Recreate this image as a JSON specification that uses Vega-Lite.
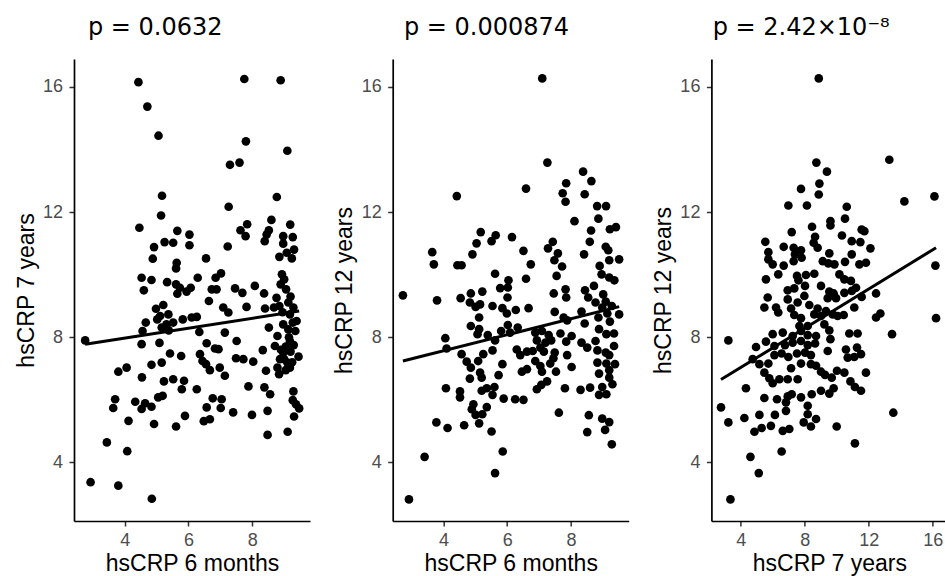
{
  "$schema": "https://vega.github.io/schema/vega-lite/v6.json",
  "padding": {"left": 15, "top": 15, "right": 0, "bottom": 0},
  "bounds": "flush",
  "spacing": 82.7,
  "background": "white",
  "config": {
    "view": {"stroke": null},
    "font": "Liberation Sans",
    "axis": {
      "grid": false,
      "domainColor": "black",
      "domainWidth": 1.7,
      "tickColor": "#333333",
      "tickSize": 5,
      "tickWidth": 1.5,
      "labelColor": "#4D4D4D",
      "labelFontSize": 18,
      "labelFont": "Liberation Sans",
      "titleFont": "Liberation Sans",
      "titleFontSize": 23,
      "titleFontWeight": "normal",
      "titleColor": "black"
    },
    "axisX": {"labelPadding": 5, "titleX": 118, "titleY": 49.7, "titleBaseline": "alphabetic", "titleAlign": "center"},
    "axisY": {"labelPadding": 6.5, "titleX": -41, "titleY": 231, "titleBaseline": "alphabetic", "titleAlign": "center"},
    "title": {"anchor": "start", "frame": "group", "offset": 19.5, "baseline": "alphabetic", "fontSize": 24, "fontWeight": "normal", "font": "DejaVu Sans", "color": "black"}
  },
  "datasets": {
    "p1": [
      {"x":4.43,"y":16.15},{"x":4.71,"y":15.37},{"x":5.06,"y":14.44},{"x":7.75,"y":16.25},{"x":8.89,"y":16.21},{"x":7.80,"y":14.26},{"x":9.10,"y":13.96},{"x":7.30,"y":13.51},{"x":7.60,"y":13.58},{"x":5.17,"y":12.52},{"x":8.77,"y":12.48},{"x":7.26,"y":12.17},{"x":5.14,"y":11.89},{"x":4.46,"y":11.50},{"x":7.84,"y":11.61},{"x":7.63,"y":11.42},{"x":7.79,"y":11.23},{"x":8.60,"y":11.75},{"x":8.52,"y":11.42},{"x":8.45,"y":11.28},{"x":8.39,"y":11.07},{"x":9.19,"y":11.60},{"x":8.97,"y":11.23},{"x":9.27,"y":11.20},{"x":8.97,"y":10.99},{"x":9.31,"y":10.80},{"x":8.85,"y":10.57},{"x":9.24,"y":10.52},{"x":9.08,"y":10.70},{"x":5.65,"y":11.40},{"x":6.03,"y":11.28},{"x":6.03,"y":10.94},{"x":5.25,"y":11.04},{"x":5.52,"y":11.02},{"x":4.92,"y":10.88},{"x":4.88,"y":10.51},{"x":5.63,"y":10.38},{"x":6.55,"y":10.52},{"x":7.23,"y":10.90},
      {"x":5.61,"y":10.20},{"x":4.53,"y":9.90},{"x":4.84,"y":9.83},{"x":4.60,"y":9.50},{"x":5.33,"y":9.76},{"x":5.61,"y":9.69},{"x":5.73,"y":9.58},{"x":5.65,"y":9.39},{"x":5.94,"y":9.46},{"x":6.07,"y":9.58},{"x":6.29,"y":9.90},{"x":6.85,"y":9.90},{"x":7.02,"y":10.04},{"x":6.73,"y":9.53},{"x":6.88,"y":9.53},{"x":6.64,"y":9.16},{"x":7.46,"y":9.56},{"x":7.69,"y":9.42},{"x":8.08,"y":9.64},{"x":8.37,"y":9.40},{"x":8.93,"y":10.01},{"x":8.89,"y":9.69},{"x":9.06,"y":9.53},{"x":8.76,"y":9.26},{"x":9.13,"y":9.11},{"x":7.09,"y":8.95},{"x":7.25,"y":8.79},{"x":7.82,"y":8.97},{"x":8.40,"y":8.92},{"x":8.68,"y":8.95},{"x":9.29,"y":8.95},{"x":9.39,"y":8.52},{"x":9.18,"y":8.73},{"x":8.97,"y":8.41},{"x":9.13,"y":8.25},{"x":9.27,"y":8.47},{"x":4.98,"y":8.91},{"x":5.21,"y":9.03},{"x":5.11,"y":8.68},{"x":5.37,"y":8.73},{"x":5.02,"y":8.57},{"x":5.31,"y":8.41},{"x":5.16,"y":8.31},{"x":5.38,"y":8.22},{"x":4.66,"y":8.47},{"x":4.56,"y":8.20},{"x":5.52,"y":8.47},{"x":5.82,"y":8.57},{"x":6.10,"y":8.63},{"x":6.26,"y":8.65},{"x":6.34,"y":8.17},{"x":7.14,"y":8.15},{"x":8.52,"y":8.31},{"x":2.76,"y":7.90},{"x":4.53,"y":7.78},{"x":5.09,"y":7.82},{"x":6.57,"y":7.81},{"x":6.83,"y":7.64},{"x":6.94,"y":7.62},{"x":7.51,"y":7.88},{"x":8.33,"y":7.59},{"x":8.79,"y":8.04},{"x":9.18,"y":7.88},{"x":8.71,"y":7.72},{"x":8.97,"y":7.51},{"x":9.20,"y":7.54},{"x":8.87,"y":7.30},{"x":9.45,"y":7.38},{"x":9.10,"y":7.19},{"x":8.79,"y":7.03},{"x":9.18,"y":7.03},{"x":8.84,"y":6.82},{"x":5.42,"y":7.48},{"x":5.77,"y":7.40},{"x":6.36,"y":7.46},{"x":6.44,"y":7.24},{"x":6.55,"y":7.14},{"x":6.67,"y":6.95},{"x":6.98,"y":7.03},{"x":7.14,"y":6.77},{"x":7.49,"y":7.33},{"x":7.72,"y":7.30},{"x":8.03,"y":7.22},{"x":8.43,"y":6.93},{"x":3.80,"y":6.90},{"x":4.06,"y":7.03},{"x":4.84,"y":7.12},{"x":5.16,"y":7.19},{"x":4.54,"y":6.72},{"x":5.23,"y":6.59},{"x":5.52,"y":6.66},{"x":5.86,"y":6.61},{"x":5.79,"y":6.34},{"x":6.26,"y":6.34},{"x":7.88,"y":6.43},{"x":8.38,"y":6.40},{"x":8.56,"y":6.18},{"x":9.29,"y":6.27},{"x":3.70,"y":6.02},{"x":3.64,"y":5.74},{"x":4.33,"y":5.94},{"x":4.53,"y":5.71},{"x":4.64,"y":5.89},{"x":4.84,"y":5.78},{"x":5.05,"y":6.08},{"x":5.19,"y":6.13},{"x":6.76,"y":6.05},{"x":7.04,"y":6.02},{"x":6.57,"y":5.76},{"x":6.48,"y":5.32},{"x":6.67,"y":5.38},{"x":7.01,"y":5.74},{"x":7.40,"y":5.60},{"x":7.99,"y":5.52},{"x":8.48,"y":5.65},{"x":9.27,"y":5.99},{"x":9.37,"y":5.86},{"x":9.47,"y":5.73},{"x":9.31,"y":5.47},{"x":5.89,"y":5.49},{"x":4.12,"y":5.33},{"x":4.92,"y":5.23},{"x":5.61,"y":5.15},{"x":8.48,"y":4.88},{"x":9.11,"y":4.98},{"x":3.44,"y":4.64},{"x":4.08,"y":4.36},{"x":2.93,"y":3.37},{"x":3.80,"y":3.26},{"x":4.85,"y":2.84},
      {"x":9.00,"y":9.85},{"x":9.20,"y":9.30},{"x":8.95,"y":8.80},{"x":9.15,"y":8.00},{"x":9.05,"y":7.70},{"x":9.30,"y":7.75},{"x":8.90,"y":7.60},{"x":9.00,"y":7.30},{"x":9.25,"y":7.20},{"x":9.05,"y":6.95},{"x":9.35,"y":8.20},{"x":8.85,"y":9.00}
    ],
    "l1": [{"x":2.76,"y":7.78},{"x":9.47,"y":8.84}],
    "p2": [
      {"x":7.10,"y":16.27},{"x":7.26,"y":13.58},{"x":4.42,"y":12.51},{"x":6.59,"y":12.75},{"x":8.38,"y":13.29},{"x":8.64,"y":12.99},{"x":7.85,"y":12.92},{"x":7.74,"y":12.60},{"x":7.83,"y":12.33},{"x":8.43,"y":12.57},{"x":8.82,"y":12.19},{"x":9.10,"y":12.19},{"x":8.86,"y":11.79},{"x":8.11,"y":11.71},{"x":8.63,"y":11.41},{"x":9.22,"y":11.45},{"x":9.41,"y":11.52},{"x":8.59,"y":11.05},{"x":9.09,"y":10.89},{"x":9.17,"y":10.78},{"x":9.51,"y":10.49},{"x":9.20,"y":10.46},{"x":8.90,"y":10.28},{"x":8.41,"y":10.65},{"x":7.43,"y":11.05},{"x":7.28,"y":10.84},{"x":7.59,"y":10.68},{"x":7.48,"y":10.46},{"x":7.72,"y":10.26},{"x":6.15,"y":11.20},{"x":6.51,"y":10.76},{"x":6.74,"y":10.33},{"x":5.17,"y":11.36},{"x":5.64,"y":11.26},{"x":5.51,"y":11.07},{"x":5.04,"y":11.00},{"x":4.91,"y":10.65},{"x":3.65,"y":10.72},{"x":3.70,"y":10.33},{"x":4.44,"y":10.30},{"x":4.57,"y":10.30},
      {"x":5.62,"y":10.03},{"x":6.59,"y":9.87},{"x":7.55,"y":9.96},{"x":8.96,"y":10.01},{"x":9.20,"y":9.91},{"x":9.36,"y":9.82},{"x":2.73,"y":9.34},{"x":3.80,"y":9.18},{"x":4.54,"y":9.25},{"x":4.86,"y":9.40},{"x":5.22,"y":9.46},{"x":4.83,"y":9.11},{"x":5.01,"y":8.97},{"x":5.15,"y":9.05},{"x":5.12,"y":8.63},{"x":6.04,"y":9.82},{"x":5.78,"y":9.57},{"x":6.02,"y":9.59},{"x":6.01,"y":9.27},{"x":5.54,"y":9.00},{"x":5.85,"y":8.93},{"x":6.27,"y":8.87},{"x":6.67,"y":8.93},{"x":5.99,"y":8.76},{"x":7.46,"y":9.40},{"x":7.83,"y":9.53},{"x":7.85,"y":9.27},{"x":8.44,"y":9.50},{"x":8.72,"y":9.64},{"x":8.54,"y":9.27},{"x":8.77,"y":9.11},{"x":9.01,"y":9.37},{"x":9.09,"y":9.14},{"x":9.28,"y":9.00},{"x":9.51,"y":8.73},{"x":8.98,"y":8.95},{"x":9.14,"y":8.76},{"x":8.86,"y":8.63},{"x":9.22,"y":8.50},{"x":8.33,"y":8.82},{"x":8.43,"y":8.44},{"x":7.49,"y":8.81},{"x":7.77,"y":8.63},{"x":7.88,"y":8.54},{"x":4.86,"y":8.36},{"x":5.07,"y":8.10},{"x":5.39,"y":8.07},{"x":5.62,"y":7.90},{"x":5.12,"y":8.26},{"x":5.81,"y":8.20},{"x":6.02,"y":8.39},{"x":6.33,"y":8.31},{"x":6.09,"y":8.15},{"x":4.06,"y":7.97},{"x":4.10,"y":7.64},{"x":6.88,"y":8.15},{"x":7.09,"y":8.20},{"x":7.30,"y":8.07},{"x":6.93,"y":7.90},{"x":7.20,"y":7.83},{"x":7.38,"y":7.90},{"x":7.04,"y":7.67},{"x":7.15,"y":7.54},{"x":7.67,"y":8.12},{"x":8.02,"y":8.04},{"x":7.85,"y":7.86},{"x":8.33,"y":7.83},{"x":8.51,"y":7.67},{"x":8.77,"y":7.88},{"x":8.88,"y":8.26},{"x":9.11,"y":8.10},{"x":9.35,"y":8.12},{"x":8.83,"y":7.58},{"x":9.09,"y":7.51},{"x":9.35,"y":7.72},{"x":9.20,"y":7.43},{"x":8.83,"y":7.19},{"x":9.11,"y":7.16},{"x":9.38,"y":7.14},{"x":9.20,"y":6.95},{"x":8.88,"y":6.84},{"x":9.20,"y":6.71},{"x":9.30,"y":6.50},{"x":8.98,"y":6.41},{"x":8.88,"y":6.16},{"x":9.11,"y":6.18},{"x":8.60,"y":6.39},{"x":8.30,"y":6.32},{"x":7.81,"y":6.37},{"x":7.62,"y":5.59},{"x":8.56,"y":5.51},{"x":8.98,"y":5.40},{"x":9.20,"y":5.29},{"x":9.07,"y":5.04},{"x":8.51,"y":4.97},{"x":9.28,"y":4.58},{"x":4.57,"y":7.46},{"x":4.73,"y":7.22},{"x":4.86,"y":7.03},{"x":5.09,"y":7.24},{"x":5.25,"y":7.46},{"x":5.54,"y":7.58},{"x":5.15,"y":6.87},{"x":5.20,"y":6.71},{"x":4.83,"y":6.68},{"x":5.85,"y":7.14},{"x":5.73,"y":6.79},{"x":6.30,"y":7.61},{"x":6.41,"y":7.43},{"x":6.62,"y":7.54},{"x":6.80,"y":7.56},{"x":6.88,"y":7.24},{"x":7.04,"y":7.08},{"x":7.09,"y":6.90},{"x":7.35,"y":7.16},{"x":7.53,"y":6.90},{"x":7.49,"y":7.51},{"x":7.45,"y":7.33},{"x":7.88,"y":7.43},{"x":8.02,"y":7.05},{"x":6.46,"y":6.90},{"x":6.62,"y":6.98},{"x":6.93,"y":6.34},{"x":7.07,"y":6.48},{"x":7.25,"y":6.59},{"x":5.20,"y":6.29},{"x":5.36,"y":6.37},{"x":5.60,"y":6.41},{"x":5.54,"y":6.16},{"x":4.08,"y":6.37},{"x":4.52,"y":6.27},{"x":4.52,"y":6.08},{"x":5.89,"y":6.04},{"x":6.25,"y":6.02},{"x":6.51,"y":6.00},{"x":4.94,"y":5.86},{"x":4.89,"y":5.70},{"x":5.01,"y":5.52},{"x":5.22,"y":5.54},{"x":5.36,"y":5.77},{"x":5.12,"y":5.25},{"x":3.78,"y":5.28},{"x":4.13,"y":5.10},{"x":4.65,"y":5.19},{"x":5.51,"y":4.99},{"x":5.86,"y":4.35},{"x":3.41,"y":4.18},{"x":5.62,"y":3.66},{"x":2.92,"y":2.82}
    ],
    "l2": [{"x":2.73,"y":7.24},{"x":9.51,"y":8.98}],
    "p3": [
      {"x":8.88,"y":16.27},{"x":8.73,"y":13.58},{"x":9.39,"y":13.29},{"x":13.29,"y":13.67},{"x":14.23,"y":12.34},{"x":16.11,"y":12.50},{"x":7.77,"y":12.74},{"x":8.92,"y":12.91},{"x":8.88,"y":12.56},{"x":6.98,"y":12.21},{"x":8.14,"y":12.21},{"x":10.63,"y":12.17},{"x":10.52,"y":11.79},{"x":9.61,"y":11.71},{"x":9.61,"y":11.57},{"x":8.46,"y":11.53},{"x":7.19,"y":11.36},{"x":5.54,"y":11.05},{"x":8.65,"y":11.21},{"x":8.56,"y":11.02},{"x":8.81,"y":10.86},{"x":10.33,"y":11.25},{"x":11.56,"y":11.44},{"x":11.73,"y":11.39},{"x":10.94,"y":11.07},{"x":11.48,"y":11.04},{"x":12.11,"y":10.84},{"x":5.73,"y":10.72},{"x":5.73,"y":10.49},{"x":6.00,"y":10.33},{"x":6.69,"y":10.89},{"x":7.31,"y":10.86},{"x":7.77,"y":10.78},{"x":7.39,"y":10.65},{"x":7.31,"y":10.43},{"x":7.81,"y":10.54},{"x":6.69,"y":10.29},{"x":9.54,"y":10.68},{"x":9.13,"y":10.43},{"x":9.48,"y":10.36},{"x":9.86,"y":10.33},{"x":10.52,"y":10.41},{"x":10.94,"y":10.65},{"x":11.42,"y":10.33},{"x":11.83,"y":10.38},{"x":16.17,"y":10.29},
      {"x":5.58,"y":9.85},{"x":6.35,"y":10.01},{"x":7.52,"y":9.96},{"x":8.08,"y":9.99},{"x":8.60,"y":10.03},{"x":7.61,"y":9.82},{"x":10.17,"y":10.01},{"x":10.48,"y":9.85},{"x":10.89,"y":9.80},{"x":6.94,"y":9.50},{"x":7.35,"y":9.56},{"x":8.02,"y":9.64},{"x":9.02,"y":9.64},{"x":9.54,"y":9.46},{"x":9.81,"y":9.40},{"x":9.44,"y":9.25},{"x":9.96,"y":9.25},{"x":10.48,"y":9.42},{"x":10.94,"y":9.48},{"x":11.21,"y":9.58},{"x":11.56,"y":9.29},{"x":12.46,"y":9.40},{"x":5.69,"y":9.27},{"x":5.48,"y":8.95},{"x":6.21,"y":8.95},{"x":6.35,"y":8.79},{"x":6.94,"y":9.21},{"x":7.15,"y":8.92},{"x":7.56,"y":9.11},{"x":7.98,"y":9.32},{"x":8.29,"y":9.03},{"x":8.81,"y":8.92},{"x":7.35,"y":8.71},{"x":7.77,"y":8.61},{"x":8.60,"y":8.73},{"x":9.02,"y":8.68},{"x":9.33,"y":8.84},{"x":9.75,"y":8.73},{"x":10.06,"y":8.68},{"x":10.44,"y":8.71},{"x":11.10,"y":8.95},{"x":12.46,"y":8.63},{"x":12.73,"y":8.76},{"x":16.21,"y":8.61},{"x":7.67,"y":8.36},{"x":8.19,"y":8.36},{"x":9.23,"y":8.41},{"x":9.54,"y":8.22},{"x":9.61,"y":7.94},{"x":6.00,"y":8.10},{"x":6.63,"y":8.15},{"x":7.25,"y":8.04},{"x":7.77,"y":8.20},{"x":8.19,"y":8.07},{"x":8.71,"y":8.04},{"x":10.79,"y":8.12},{"x":11.31,"y":8.12},{"x":13.46,"y":8.10},{"x":3.23,"y":7.90},{"x":4.96,"y":7.69},{"x":5.58,"y":7.86},{"x":6.11,"y":7.72},{"x":6.77,"y":7.75},{"x":7.25,"y":7.83},{"x":7.77,"y":7.88},{"x":8.19,"y":7.75},{"x":8.65,"y":7.80},{"x":9.44,"y":7.56},{"x":10.58,"y":7.61},{"x":10.69,"y":7.35},{"x":11.27,"y":7.67},{"x":11.52,"y":7.46},{"x":11.10,"y":7.37},{"x":4.75,"y":7.30},{"x":5.17,"y":7.14},{"x":5.73,"y":7.16},{"x":6.11,"y":7.43},{"x":6.56,"y":7.48},{"x":6.98,"y":7.37},{"x":7.52,"y":7.48},{"x":8.02,"y":7.51},{"x":8.39,"y":7.43},{"x":5.48,"y":6.87},{"x":5.79,"y":6.69},{"x":6.00,"y":6.53},{"x":6.42,"y":6.66},{"x":6.94,"y":6.66},{"x":7.15,"y":7.01},{"x":7.56,"y":6.66},{"x":7.77,"y":7.16},{"x":8.39,"y":7.14},{"x":8.71,"y":7.09},{"x":9.02,"y":6.90},{"x":9.27,"y":6.80},{"x":9.69,"y":6.71},{"x":10.02,"y":6.93},{"x":10.48,"y":6.87},{"x":11.83,"y":6.87},{"x":10.86,"y":6.59},{"x":11.14,"y":6.41},{"x":11.52,"y":6.29},{"x":4.33,"y":6.37},{"x":5.48,"y":6.06},{"x":6.27,"y":6.02},{"x":6.94,"y":6.11},{"x":7.19,"y":6.18},{"x":7.77,"y":6.08},{"x":8.44,"y":6.18},{"x":9.02,"y":6.29},{"x":9.54,"y":6.20},{"x":9.81,"y":6.37},{"x":6.83,"y":5.92},{"x":6.83,"y":5.65},{"x":8.19,"y":5.81},{"x":8.19,"y":5.54},{"x":7.94,"y":5.28},{"x":8.39,"y":5.15},{"x":8.71,"y":5.39},{"x":2.77,"y":5.76},{"x":3.23,"y":5.28},{"x":4.23,"y":5.42},{"x":5.17,"y":5.52},{"x":6.14,"y":5.52},{"x":4.86,"y":4.98},{"x":5.31,"y":5.10},{"x":5.89,"y":5.17},{"x":6.63,"y":5.01},{"x":7.04,"y":5.07},{"x":10.00,"y":5.15},{"x":13.54,"y":5.59},{"x":11.14,"y":4.61},{"x":4.61,"y":4.18},{"x":6.56,"y":4.35},{"x":5.13,"y":3.66},{"x":3.36,"y":2.82}
    ],
    "l3": [{"x":2.77,"y":6.65},{"x":16.21,"y":10.86}]
  },
  "hconcat": [
    {
      "width": 236, "height": 462,
      "title": {"text": "p = 0.0632", "dx": 14},
      "layer": [
        {"data": {"name": "p1"}, "mark": {"type": "circle", "size": 75, "opacity": 1, "color": "black"},
         "encoding": {
           "x": {"field": "x", "type": "quantitative", "scale": {"domain": [2.41, 9.81], "nice": false, "zero": false}, "axis": {"values": [4, 6, 8]}, "title": "hsCRP 6 months"},
           "y": {"field": "y", "type": "quantitative", "scale": {"domain": [2.13, 16.89], "nice": false, "zero": false}, "axis": {"values": [4, 8, 12, 16]}, "title": "hsCRP 7 years"}}},
        {"data": {"name": "l1"}, "mark": {"type": "line", "color": "black", "strokeWidth": 3},
         "encoding": {"x": {"field": "x", "type": "quantitative"}, "y": {"field": "y", "type": "quantitative"}}}
      ]
    },
    {
      "width": 236, "height": 462,
      "title": {"text": "p = 0.000874", "dx": 11.3},
      "layer": [
        {"data": {"name": "p2"}, "mark": {"type": "circle", "size": 75, "opacity": 1, "color": "black"},
         "encoding": {
           "x": {"field": "x", "type": "quantitative", "scale": {"domain": [2.41, 9.81], "nice": false, "zero": false}, "axis": {"values": [4, 6, 8]}, "title": "hsCRP 6 months"},
           "y": {"field": "y", "type": "quantitative", "scale": {"domain": [2.13, 16.89], "nice": false, "zero": false}, "axis": {"values": [4, 8, 12, 16]}, "title": "hsCRP 12 years"}}},
        {"data": {"name": "l2"}, "mark": {"type": "line", "color": "black", "strokeWidth": 3},
         "encoding": {"x": {"field": "x", "type": "quantitative"}, "y": {"field": "y", "type": "quantitative"}}}
      ]
    },
    {
      "width": 233.6, "height": 462,
      "title": {"text": "p = 2.42×10⁻⁸", "dx": 1.3},
      "layer": [
        {"data": {"name": "p3"}, "mark": {"type": "circle", "size": 75, "opacity": 1, "color": "black"},
         "encoding": {
           "x": {"field": "x", "type": "quantitative", "scale": {"domain": [2.17, 16.77], "nice": false, "zero": false}, "axis": {"values": [4, 8, 12, 16]}, "title": "hsCRP 7 years"},
           "y": {"field": "y", "type": "quantitative", "scale": {"domain": [2.13, 16.89], "nice": false, "zero": false}, "axis": {"values": [4, 8, 12, 16]}, "title": "hsCRP 12 years"}}},
        {"data": {"name": "l3"}, "mark": {"type": "line", "color": "black", "strokeWidth": 3},
         "encoding": {"x": {"field": "x", "type": "quantitative"}, "y": {"field": "y", "type": "quantitative"}}}
      ]
    }
  ]
}
